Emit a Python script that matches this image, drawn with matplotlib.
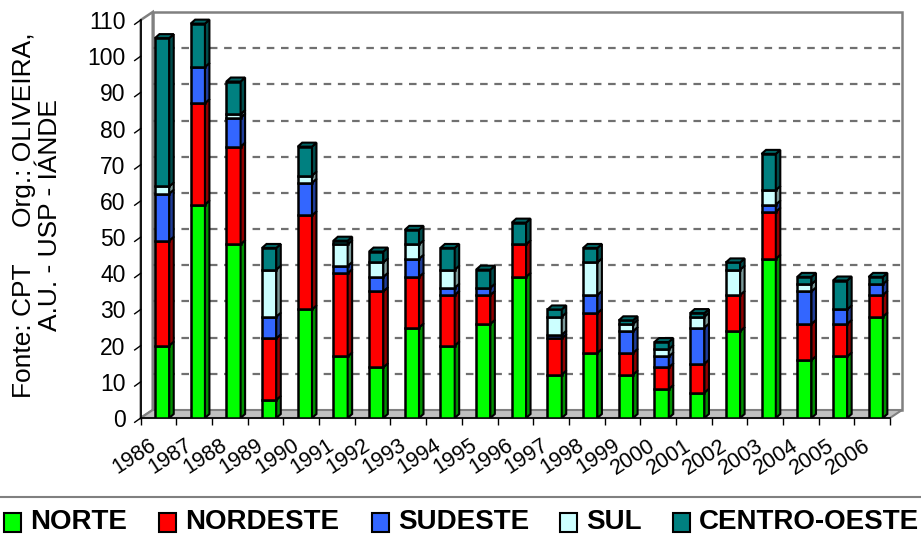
import numpy as np
import matplotlib
matplotlib.use('Agg')
import matplotlib.pyplot as plt
from matplotlib.patches import Polygon, Rectangle
from matplotlib.lines import Line2D
from matplotlib.transforms import ScaledTranslation

plt.rcParams['font.family'] = ['Liberation Sans', 'DejaVu Sans']

# dados (conflitos por regiao)
anos = ['1986', '1987', '1988', '1989', '1990', '1991', '1992', '1993', '1994', '1995', '1996',
        '1997', '1998', '1999', '2000', '2001', '2002', '2003', '2004', '2005', '2006']
norte = [20, 59, 48, 5, 30, 17, 14, 25, 20, 26, 39, 12, 18, 12, 8, 7, 24, 44, 16, 17, 28]
nordeste = [29, 28, 27, 17, 26, 23, 21, 14, 14, 8, 9, 10, 11, 6, 6, 8, 10, 13, 10, 9, 6]
sudeste = [13, 10, 8, 6, 9, 2, 4, 5, 2, 2, 0, 1, 5, 6, 3, 10, 0, 2, 9, 4, 3]
sul = [2, 0, 1, 13, 2, 6, 4, 4, 5, 0, 0, 5, 9, 2, 2, 3, 7, 4, 2, 0, 0]
centro_oeste = [41, 12, 9, 6, 8, 1, 3, 4, 6, 5, 6, 2, 4, 1, 2, 1, 2, 10, 2, 8, 2]

regioes = ['NORTE', 'NORDESTE', 'SUDESTE', 'SUL', 'CENTRO-OESTE']
cores = ['#00FF00', '#FF0000', '#3366FF', '#CCFFFF', '#008080']
lados = ['#009000', '#900000', '#1f3d99', '#7a9999', '#004c4c']
topos = ['#00cc00', '#cc0000', '#2952cc', '#a3cccc', '#006666']
series = [norte, nordeste, sudeste, sul, centro_oeste]

W, H = 921, 538
fig = plt.figure(figsize=(W / 100, H / 100), dpi=100)
fig.patch.set_facecolor('white')

# escala: px por unidade
sx = 35.68
sy = 3.618
x0px, y0px = 140.7, 418
xmax, ymax = 21.4, 112.6
ax = fig.add_axes([x0px / W, (H - y0px) / H, xmax * sx / W, ymax * sy / H])
ax.set_xlim(0, xmax)
ax.set_ylim(0, ymax)
for s in ax.spines.values():
    s.set_visible(False)
ax.set_facecolor('none')

n = len(anos)
# profundidade das paredes e das barras (px -> dados)
wdx, wdy = 12 / sx, 8 / sy
bdx, bdy = 4.5 / sx, 4 / sy

# parede esquerda, fundo e chao
ax.add_patch(Polygon([(0, 0), (0, 110), (wdx, 110 + wdy), (wdx, wdy)], closed=True,
                     fc='white', ec='#808080', lw=1.8, zorder=0, clip_on=False))
ax.add_patch(Rectangle((wdx, wdy), n, 110, fc='white', ec='#808080', lw=1.8, zorder=0,
                       clip_on=False))
ax.add_patch(Polygon([(0, 0), (n, 0), (n + wdx, wdy), (wdx, wdy)], closed=True,
                     fc='#c0c0c0', ec='#808080', lw=1.5, zorder=0.5, clip_on=False))

# linhas de grade tracejadas
for v in range(10, 110, 10):
    ax.plot([wdx, n + wdx], [v + wdy, v + wdy], color='#707070', lw=1.6,
            linestyle=(0, (3.4, 3)), zorder=1)

# eixos
ax.plot([0, 0], [0, 110], color='black', lw=1.2, zorder=2, clip_on=False)
ax.plot([0, n], [0, 0], color='black', lw=1.2, zorder=2, clip_on=False)
for v in range(0, 111, 10):
    ax.plot([-6 / sx, 0], [v - 4.3 / sy, v], color='black', lw=1.0, clip_on=False)

# barras empilhadas com efeito 3D
xc = np.arange(n) + 0.6
larg = 0.4
base = np.zeros(n)
for vals, c, cl in zip(series, cores, lados):
    vals = np.array(vals, dtype=float)
    mask = vals > 0
    ax.bar(xc[mask], vals[mask], larg, bottom=base[mask], color=c, edgecolor='black',
           lw=1.8, zorder=3)
    for xi, b, v in zip(xc[mask], base[mask], vals[mask]):
        xr = xi + larg / 2
        ax.add_patch(Polygon([(xr, b), (xr + bdx, b + bdy), (xr + bdx, b + v + bdy), (xr, b + v)],
                             closed=True, fc=cl, ec='black', lw=1.5, zorder=3))
    base = base + vals

# topo das pilhas
for xi, t in zip(xc, base):
    xl, xr = xi - larg / 2, xi + larg / 2
    ax.add_patch(Polygon([(xl, t), (xr, t), (xr + bdx, t + bdy), (xl + bdx, t + bdy)],
                         closed=True, fc=topos[-1], ec='black', lw=1.5, zorder=3.5,
                         clip_on=False))

# ticks
ax.set_yticks(range(0, 111, 10))
ax.tick_params(axis='y', length=0, pad=11, labelsize=16.5)
ax.set_xticks(range(0, n + 1))
ax.set_xticklabels([])
ax.tick_params(axis='x', which='major', length=5, width=1, color='black', direction='out')

# rotulos dos anos
off = ScaledTranslation(-10 / 100, -17 / 100, fig.dpi_scale_trans)
for i, a in enumerate(anos):
    ax.text(i + 0.5, 0, a, transform=ax.transData + off, rotation=33, ha='right', va='top',
            rotation_mode='anchor', fontsize=15.5, clip_on=False)

# texto lateral
fig.text(37 / W, 1 - 215 / H, 'Fonte: CPT     Org.: OLIVEIRA,\nA.U. - USP - IÁNDE',
         rotation=90, ha='center', va='center', multialignment='center', fontsize=19,
         linespacing=1.1)

# legenda
fig.add_artist(Line2D([0, 1], [1 - 497 / H] * 2, color='#808080', lw=1.5,
                      transform=fig.transFigure))
leg_x = [4, 159, 372, 560, 673]
for lx, nome, c in zip(leg_x, regioes, cores):
    fig.add_artist(Rectangle((lx / W, 1 - 532 / H), 17 / W, 19 / H, fc=c, ec='black', lw=1.5,
                             transform=fig.transFigure))
    fig.text((lx + 26) / W, 1 - 522 / H, nome, fontsize=20, fontweight='bold',
             ha='left', va='center')

fig.savefig('out.png', dpi=100)
